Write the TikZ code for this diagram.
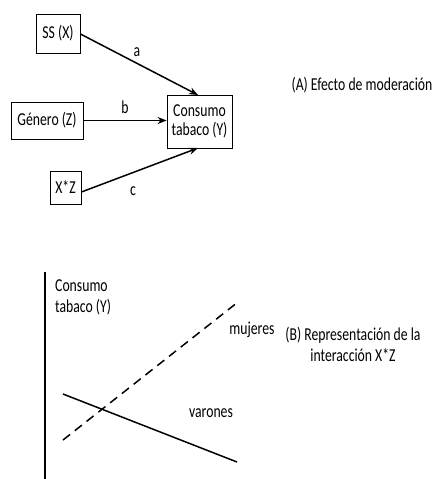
\documentclass[tikz,border=0pt]{standalone}
\usepackage{fontspec}
\setmainfont{Carlito}
\usetikzlibrary{arrows.meta}
% text set a little taller than wide
\newcommand{\tl}[1]{\scalebox{0.98}[1.3]{#1}}
\begin{document}
\begin{tikzpicture}[x=1pt,y=-1pt,
  every node/.style={font=\fontsize{14}{17}\selectfont, inner sep=0pt},
  varbox/.style={draw, line width=0.8pt, align=center},
  path/.style={line width=1.5pt, -{Stealth[length=9pt,width=7pt]}},
  lbl/.style={},
  trend/.style={line width=1.5pt}]
  \useasboundingbox (0,0) rectangle (436,479);

  % (A) path model
  \node[varbox, minimum width=44pt, minimum height=39pt] (ss) at (58,33.5) {\tl{SS (X)}};
  \node[varbox, minimum width=72pt, minimum height=37pt] (gen) at (47,120.5) {\tl{Género (Z)}};
  \node[varbox, minimum width=31pt, minimum height=33pt] (xz) at (65.5,187.5) {\tl{X*Z}};
  \node[varbox, minimum width=65pt, minimum height=53pt, align=center] (y) at (199.5,121.5)
    {\tl{Consumo}\\[2pt]\tl{tabaco (Y)}};

  \coordinate (ytop) at (198,95);
  \coordinate (ybot) at (198,148);
  \draw[path] (ss.east |- 0,34) -- (ytop);
  \draw[path] (gen.east) -- (y.west |- gen.east);
  \draw[path] (xz.east |- 0,192) -- (ybot);

  \node[lbl] (la) at (137,52) {\tl{a}};
  \node[lbl] (lb) at (125,107) {\tl{b}};
  \node[lbl] (lc) at (133,191) {\tl{c}};

  \node (titleA) at (362,85) {\tl{(A) Efecto de moderación}};

  % (B) interaction plot
  \coordinate (axtop) at (45,272);
  \coordinate (axbot) at (45,479);
  \draw[line width=1.6pt] (axtop) -- (axbot);
  \node[align=left, anchor=north west] (ylab) at (55,279) {\tl{Consumo}\\[4pt]\tl{tabaco (Y)}};

  \coordinate (m0) at (63,440);
  \coordinate (m1) at (238,302);
  \coordinate (v0) at (63,394);
  \coordinate (v1) at (237,462);
  \draw[trend, dashed, dash pattern=on 9pt off 6pt] (m0) -- (m1);
  \draw[trend] (v0) -- (v1);

  \node (muj) at (252,330) {\tl{mujeres}};
  \node (var) at (211,413) {\tl{varones}};
  \node[align=center] (titleB) at (353,344) {\tl{(B) Representación de la}\\[4pt]\tl{interacción X*Z}};
\end{tikzpicture}
\end{document}
